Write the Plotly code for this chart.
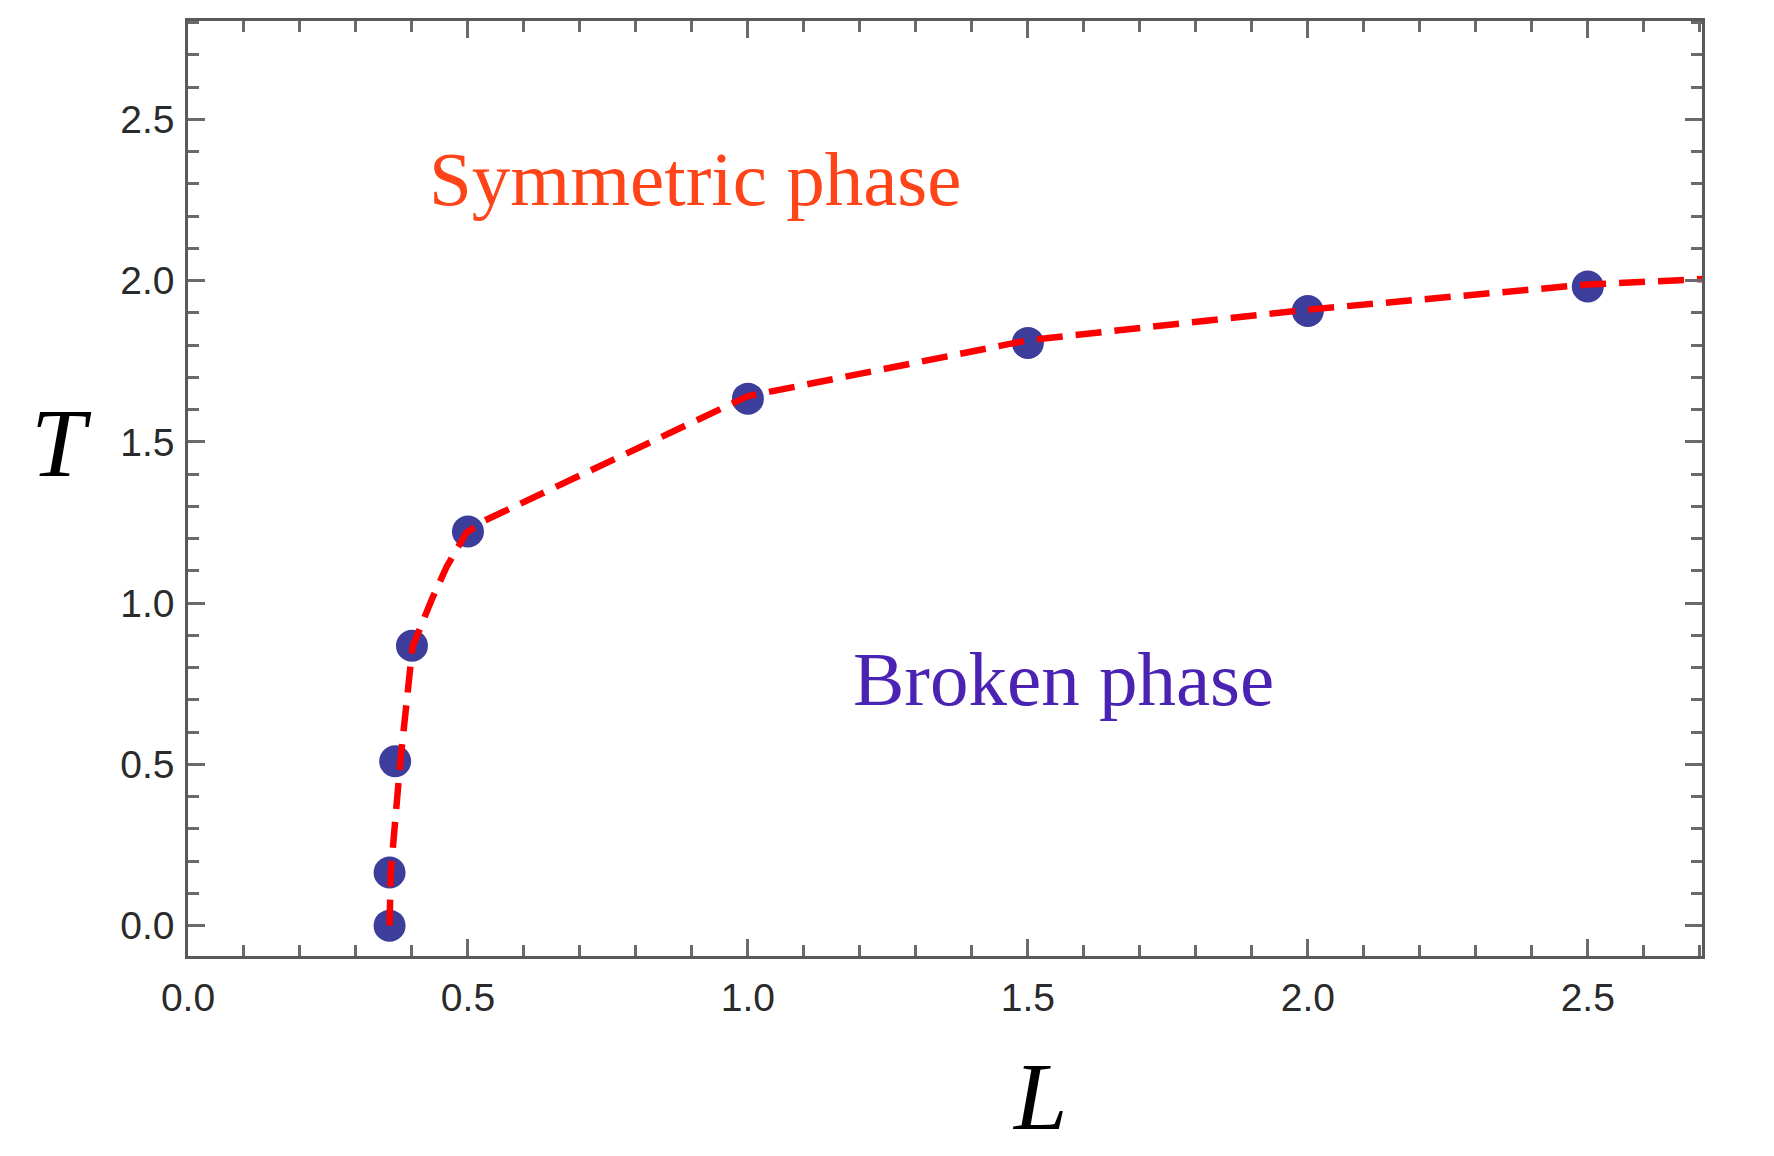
import plotly.graph_objects as go

# Data points (blue markers)
L_points = [0.36, 0.36, 0.37, 0.40, 0.50, 1.0, 1.5, 2.0, 2.5]
T_points = [0.0, 0.165, 0.51, 0.868, 1.222, 1.634, 1.807, 1.906, 1.982]

# Dashed red boundary curve
L_curve = [0.36, 0.362, 0.3795, 0.39, 0.401, 0.435, 0.462, 0.497, 0.503, 0.526, 1.0, 1.5, 2.0, 2.5, 2.72]
T_curve = [0.0, 0.164, 0.514, 0.700, 0.865, 1.010, 1.113, 1.218, 1.226, 1.253, 1.642, 1.815, 1.910, 1.988, 2.006]

x_range = [0.0, 2.704]
y_range = [-0.094, 2.805]

fig = go.Figure()
fig.add_trace(go.Scatter(
    x=L_points, y=T_points, mode="markers",
    marker=dict(size=32, color="#3d3d9b", line=dict(width=0)),
    showlegend=False, cliponaxis=True,
))
fig.add_trace(go.Scatter(
    x=L_curve, y=T_curve, mode="lines",
    line=dict(color="#ff0000", width=6.5, dash="26px,13px"),
    showlegend=False,
))

axis_common = dict(
    showgrid=False, zeroline=False,
    showline=True, linecolor="#5a5a5a", linewidth=2.5, mirror="ticks",
    ticks="inside", ticklen=17, tickwidth=2.5, tickcolor="#6a6a6a",
    tick0=0, dtick=0.5, tickformat=".1f",
    tickfont=dict(family="Liberation Sans, Arial, sans-serif", size=39, color="#2a2a2a"),
    minor=dict(ticks="inside", ticklen=11, tickwidth=2.5, tickcolor="#6a6a6a", dtick=0.1, tick0=0, showgrid=False),
)

fig.update_xaxes(range=x_range, ticklabelstandoff=5, **axis_common)
fig.update_yaxes(range=y_range, ticklabelstandoff=3, **axis_common)

serif = "Liberation Serif, Times New Roman, serif"
fig.add_annotation(x=0.905, y=2.315, xref="x", yref="y", text="Symmetric phase",
                   showarrow=False, font=dict(family=serif, size=77, color="#ff4419"),
                   xanchor="center", yanchor="middle")
fig.add_annotation(x=1.563, y=0.766, xref="x", yref="y", text="Broken phase",
                   showarrow=False, font=dict(family=serif, size=77, color="#4b23b3"),
                   xanchor="center", yanchor="middle")
fig.add_annotation(x=-0.0835, y=1.497, xref="paper", yref="y", text="<i>T</i>",
                   showarrow=False, font=dict(family=serif, size=98, color="#000000"),
                   xanchor="center", yanchor="middle")
fig.add_annotation(x=1.521, y=-0.150, xref="x", yref="paper", text="<i>L</i>",
                   showarrow=False, font=dict(family=serif, size=96, color="#000000"),
                   xanchor="center", yanchor="middle")

fig.update_layout(
    width=1774, height=1156, autosize=False,
    margin=dict(l=188, r=72, t=21, b=200),
    plot_bgcolor="white", paper_bgcolor="white",
)

fig.write_html("out.html")
